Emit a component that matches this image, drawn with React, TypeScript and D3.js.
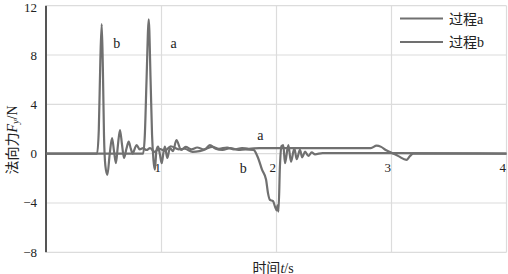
import React from "react";
import * as d3 from "d3";

const xTicks = [1, 2, 3, 4];
const yTicks = [-8, -4, 0, 4, 8, 12];
const yTickLabels = ["−8", "−4", "0", "4", "8", "12"];

const timesA = [0, 0.84, 0.855, 0.87, 0.889, 0.905, 0.918, 0.93, 0.943, 0.955, 0.97, 0.985, 1.002, 1.017, 1.03, 1.05, 1.074, 1.1, 1.13, 1.17, 1.21, 1.26, 1.31, 1.37, 1.44, 1.5, 1.57, 1.63, 1.7, 1.76, 1.85, 2.2, 2.5, 2.82, 2.87, 2.91, 2.95, 3.0, 3.06, 3.13, 3.16, 3.19, 3.3, 4.0];
const valuesA = [0, 0, 1.5, 6, 10.9, 6, 1.5, -0.5, -1.3, 0.2, 0.57, 0.0, -0.77, 0.1, 0.57, -0.35, 0.46, 0.2, 1.1, 0.3, 0.55, 0.35, 0.5, 0.35, 0.55, 0.4, 0.5, 0.35, 0.45, 0.4, 0.45, 0.45, 0.45, 0.45, 0.65, 0.55, 0.3, 0.08, -0.2, -0.5, -0.2, 0, 0, 0];

const timesB = [0, 0.44, 0.455, 0.468, 0.48, 0.49, 0.5, 0.512, 0.529, 0.55, 0.57, 0.587, 0.604, 0.62, 0.639, 0.657, 0.674, 0.695, 0.715, 0.733, 0.75, 0.767, 0.784, 0.81, 0.84, 0.87, 0.9, 0.94, 0.98, 1.03, 1.08, 1.15, 1.2, 1.27, 1.33, 1.38, 1.42, 1.47, 1.53, 1.6, 1.67, 1.73, 1.8, 1.84, 1.874, 1.909, 1.926, 1.943, 1.97, 1.987, 2.002, 2.01, 2.017, 2.03, 2.043, 2.059, 2.074, 2.103, 2.126, 2.155, 2.176, 2.204, 2.224, 2.248, 2.277, 2.306, 2.335, 2.4, 3.0, 4.0];
const valuesB = [0, 0, 2, 7.5, 10.5, 7, 1.5, -1, -1.73, 0, 1.27, 0.2, -0.77, 0.6, 1.92, 0.7, -0.35, 0.4, 0.97, 0.4, 0, 0.4, 0.7, 0.35, 0.45, 0.3, 0.45, 0.15, 0.4, 0.25, 0.6, 0.35, 0.4, 0.15, 0.2, 0.35, 0.7, 0.4, 0.3, 0.45, 0.3, 0.35, 0.3, -0.35, -1.3, -2.1, -3.2, -3.75, -3.85, -4.3, -4.6, -4.2, -4.7, -1.0, 0.6, 0.7, -0.77, 0.7, -0.65, 0.44, -0.45, 0.3, -0.3, 0.16, -0.19, 0.1, -0.05, 0.05, 0.05, 0];

const seriesNames = ["过程a", "过程b"];
const annotTexts = ["b", "a", "a", "b"];
const annotT = [0.61, 1.105, 1.86, 1.71];
const annotV = [8.9, 8.9, 1.5, -1.2];

const W = 508;
const H = 274;
const LINE = "#707070";
const GRID = "#dcdcdc";
const SERIF = "'Liberation Serif', 'Times New Roman', 'Noto Sans CJK SC', serif";

export default function App() {
  const x = d3.scaleLinear().domain([0, 4]).range([46.5, 506.5]);
  const y = d3.scaleLinear().domain([-8, 12]).range([252.3, 5.7]);
  const line = d3
    .line<[number, number]>()
    .x((d) => x(d[0]))
    .y((d) => y(d[1]))
    .curve(d3.curveMonotoneX);
  const dataA = timesA.map((t, i) => [t, valuesA[i]] as [number, number]);
  const dataB = timesB.map((t, i) => [t, valuesB[i]] as [number, number]);

  return (
    <svg
      width={W}
      height={H}
      style={{ position: "absolute", left: 0, top: 0, background: "#fff", fontFamily: SERIF }}
    >
      {yTicks.map((v) => (
        <line key={"gy" + v} x1={x(0)} x2={x(4)} y1={y(v)} y2={y(v)} stroke={GRID} strokeWidth={1.2} />
      ))}
      {xTicks.map((t) => (
        <line key={"gx" + t} x1={x(t)} x2={x(t)} y1={y(12)} y2={y(-8)} stroke={GRID} strokeWidth={1.2} />
      ))}
      <line x1={x(0) - 0.5} x2={x(0) - 0.5} y1={y(12)} y2={y(-8)} stroke="#555" strokeWidth={2} />
      {yTicks.map((v, i) => (
        <text key={"ty" + v} x={37} y={Math.max(y(v), 7.5)} textAnchor="end" dominantBaseline="central" fontSize={13} fill="#222">
          {yTickLabels[i]}
        </text>
      ))}
      {xTicks.map((t) => (
        <text key={"tx" + t} x={x(t) - 0.5} y={y(0) + 14} textAnchor="end" dominantBaseline="central" fontSize={13} fill="#222">
          {t}
        </text>
      ))}
      <path d={line(dataB) || ""} fill="none" stroke={LINE} strokeWidth={2.2} strokeLinejoin="round" />
      <path d={line(dataA) || ""} fill="none" stroke={LINE} strokeWidth={2.2} strokeLinejoin="round" />
      {annotTexts.map((s, i) => (
        <text key={"an" + i} x={x(annotT[i])} y={y(annotV[i])} textAnchor="middle" dominantBaseline="central" fontSize={14} fill="#222">
          {s}
        </text>
      ))}
      {seriesNames.map((n, i) => (
        <g key={n}>
          <line x1={400} x2={443} y1={18.5 + i * 23.5} y2={18.5 + i * 23.5} stroke={LINE} strokeWidth={2.2} />
          <text x={449} y={19 + i * 23.5} dominantBaseline="central" fontSize={14} fill="#222">
            {n}
          </text>
        </g>
      ))}
      <text transform="translate(12,140) rotate(-90)" textAnchor="middle" dominantBaseline="central" fontSize={14} fill="#222">
        法向力<tspan fontStyle="italic">F</tspan>
        <tspan fontStyle="italic" fontSize={10} dy={3}>y</tspan>
        <tspan dy={-3}>/N</tspan>
      </text>
      <text x={273} y={268} textAnchor="middle" dominantBaseline="central" fontSize={14} fill="#222">
        时间<tspan fontStyle="italic">t</tspan>/s
      </text>
    </svg>
  );
}
